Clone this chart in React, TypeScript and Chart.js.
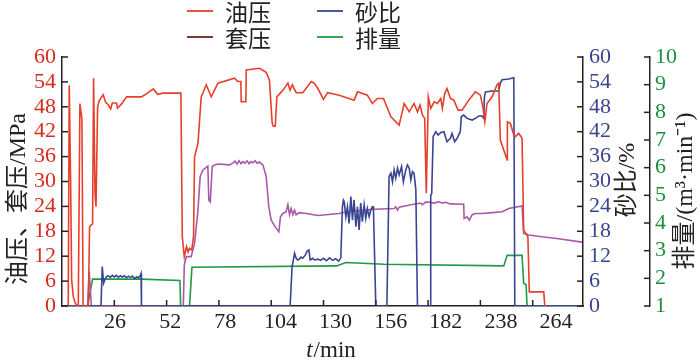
import React, { useEffect, useRef } from 'react';
import { Chart, registerables } from 'chart.js';

Chart.register(...registerables);

// ---- data (time in min, values in axis units) ----
const xTickValues = [26, 52, 78, 104, 130, 156, 182, 208, 234];
const xTickLabels = ['26', '52', '78', '104', '130', '156', '182', '238', '264'];

const seriesNames = ['油压', '套压', '砂比', '排量'];

const oilPressure: [number, number][] = [
  [3.1, 0], [3.6, 53.2], [4.3, 29.6], [4.8, 6.3], [5.6, 2.3], [6.5, 0.8], [7.3, 0.2], [8.1, 0],
  [8.9, 48.8], [9.9, 45.0], [10.5, 0], [13.1, 0], [13.7, 19.1], [14.7, 19.6], [15.2, 19.8],
  [15.7, 54.9], [16.4, 27.2], [16.9, 23.9], [17.7, 47.8], [18.4, 49.4], [19.4, 50.2], [20.5, 50.9],
  [21.7, 49.1], [23.0, 48.5], [24.2, 47.5], [25.0, 48.9], [27.1, 48.9], [27.6, 47.7], [29.6, 48.7],
  [32.1, 50.4], [39.5, 50.4], [42.5, 51.3], [45.4, 52.3], [47.5, 51.0], [50.3, 51.3], [59.1, 51.3],
  [59.8, 16.7], [60.8, 11.9], [61.9, 14.3], [62.7, 13.0], [63.4, 13.9], [64.5, 13.5], [65.4, 16.7],
  [65.9, 36.0], [67.6, 39.2], [69.2, 50.4], [70.2, 51.5], [71.7, 53.3], [74.2, 50.4], [77.5, 53.7],
  [85.8, 54.9], [87.4, 54.1], [88.9, 54.1], [89.1, 49.2], [91.4, 49.2], [91.6, 56.9], [98.2, 57.3],
  [101.5, 56.3], [103.1, 54.5], [104.5, 44.0], [105.1, 43.3], [106.0, 43.3], [106.8, 50.4],
  [109.8, 52.0], [111.0, 52.8], [112.3, 53.7], [113.4, 52.0], [114.5, 53.3], [116.4, 51.4],
  [119.7, 51.4], [123.9, 54.1], [125.3, 53.7], [127.2, 52.4], [130, 49.8], [132, 51.4],
  [137.8, 50.8], [145.2, 49.6], [146.9, 51.6], [151.8, 50.8], [154.3, 48.8], [156.8, 50.0],
  [159.8, 50.0], [163.5, 45.6], [167.6, 43.6], [170.1, 48.8], [172.6, 46.8], [175, 48.8],
  [176.7, 46.8], [178, 48.4], [179.2, 46.0], [180.3, 45.2], [181.1, 27.2], [182.1, 50.4],
  [183.3, 47.6], [185, 49.2], [186.6, 48.8], [188.3, 50.0], [189.1, 47.6], [190.3, 51.3],
  [191.4, 52.4], [193.1, 50.0], [194.8, 49.6], [196.9, 47.2], [198.9, 47.2], [202.2, 49.6],
  [205.5, 51.6], [208, 50.8], [209.2, 48.0], [210.2, 44.4], [211.3, 48.8], [213.8, 50.4],
  [216.3, 53.3], [217.1, 53.7], [217.9, 40.0], [221.3, 35.2], [221.4, 44.4], [222.9, 44.0],
  [224.6, 41.2], [225.4, 40.8], [227, 41.6], [228.7, 40.4], [229.5, 18.3], [231.6, 16.7],
  [232.3, 3.4], [239.5, 3.4], [240, 0],
];

const casingPressure: [number, number][] = [
  [0, 0], [12.7, 0], [13.5, 8.3], [14.6, 0], [60.3, 0], [60.8, 9.9], [61.8, 11.9], [64.2, 11.9],
  [65.9, 15.1], [67.6, 23.1], [68.7, 31.2], [70.1, 32.8], [72.5, 33.7], [73.0, 25.5], [73.7, 25.1],
  [74.7, 33.6], [75.9, 34.0], [77.5, 34.2], [83.3, 34.0], [85, 34.5], [86, 34.9], [87, 34.2],
  [88, 35.0], [89, 34.3], [90, 34.8], [91, 34.4], [92, 35.0], [93, 34.3], [94, 34.8], [95, 34.5],
  [96, 35.0], [97, 34.4], [98, 34.7], [99.9, 34.0], [101.5, 31.2], [102.8, 23.9], [104, 20.7],
  [106.5, 18.7], [107.8, 17.9], [108.6, 21.5], [109.8, 22.3], [111.4, 22.7], [112.3, 24.4],
  [113.1, 22.0], [113.9, 23.5], [114.8, 22.0], [115.6, 23.1], [116.4, 22.0], [118, 22.5],
  [121.4, 22.3], [127.2, 21.8], [137.8, 22.3], [141.9, 22.7], [155.2, 23.3], [165.1, 23.5],
  [165.9, 23.9], [166.8, 23.1], [167.6, 23.8], [173.4, 24.4], [178.4, 24.8], [179.2, 24.4],
  [180.9, 25.1], [182.5, 25.0], [185, 24.8], [187.4, 25.1], [189.1, 24.8], [190.7, 25.0],
  [193, 24.6], [199.7, 24.5], [199.9, 21.1], [201.4, 21.5], [202.5, 20.7], [203.9, 22.0],
  [205.5, 22.3], [208.8, 22.3], [213.8, 22.5], [218.8, 22.7], [222.1, 23.5], [228.7, 24.1],
  [229.5, 17.5], [232, 17.1], [238.6, 16.7], [246.9, 16.2], [258.5, 15.4],
];

const sandRatio: [number, number][] = [
  [0, 0], [19.4, 0], [20.0, 9.5], [20.7, 5.5], [21.3, 6.3], [22.2, 7.1], [23, 7.3], [24, 6.9],
  [25, 7.4], [26, 7.0], [27, 7.4], [28, 6.9], [29, 7.3], [30, 7.0], [31, 7.3], [32, 6.8], [33, 7.2],
  [34, 6.9], [35, 7.2], [36, 6.6], [37, 7.0], [38, 6.8], [39, 7.4], [39.3, 7.8], [39.5, 0],
  [113.4, 0], [114.4, 9.5], [115.6, 12.7], [116.4, 11.5], [117.2, 11.1], [118, 11.3], [118.8, 11.8],
  [119.7, 11.5], [121, 12.3], [121.8, 13.2], [122.7, 13.5], [123.4, 11.1], [124.7, 11.5],
  [125.5, 11.1], [127.2, 11.3], [128.5, 11.0], [130, 11.5], [131.5, 10.9], [133, 11.6],
  [134.5, 11.0], [136, 11.4], [137.5, 10.8], [138.6, 11.6], [139.4, 23.9], [139.9, 25.5],
  [140.3, 25.1], [141.1, 21.5], [141.9, 23.9], [142.7, 19.9], [143.6, 26.4], [144.4, 20.7],
  [145.2, 25.6], [146.1, 19.1], [146.9, 23.9], [147.7, 18.3], [148.5, 24.8], [149.3, 20.3],
  [150.2, 24.4], [151, 21.1], [151.8, 23.5], [152.7, 21.5], [153.5, 23.1], [154.3, 23.9],
  [154.8, 23.9], [156, 0], [161.5, 0], [162.6, 31.2], [163.5, 32.0], [164.3, 29.9], [165.1, 32.8],
  [165.9, 30.8], [166.8, 33.2], [167.6, 31.6], [168.8, 33.6], [169.7, 29.9], [170.9, 32.8],
  [171.7, 34.0], [172.6, 33.2], [173.4, 30.4], [174.2, 32.4], [175, 32.0], [175.9, 28.0],
  [176.7, 0], [183, 0], [183.3, 26.7], [183.8, 27.1], [184.5, 40.8], [185.8, 42.0], [187, 41.2],
  [188.3, 41.8], [189.9, 42.0], [190.6, 40.8], [191.4, 39.6], [192.2, 40.0], [193.1, 40.4],
  [193.9, 41.6], [195.2, 39.6], [196.4, 40.4], [198, 42.0], [198.5, 45.6], [199.7, 46.0],
  [201.4, 45.2], [203.9, 44.8], [205.5, 45.2], [207.2, 45.8], [208.8, 45.8], [209.7, 45.2],
  [210, 50.4], [210.5, 51.6], [213.8, 51.8], [217.1, 51.8], [217.9, 53.7], [218.8, 54.5],
  [222.1, 54.7], [224.6, 55.0], [225.1, 0], [259, 0],
];

const pumpRate: [number, number][] = [
  [0, 1], [12.7, 1], [15.2, 1.97], [39.5, 1.97], [58.6, 1.92], [59.0, 1], [63.4, 1], [64.6, 2.4],
  [136.6, 2.45], [141.1, 2.57], [160, 2.51], [219.6, 2.45], [221.3, 2.83], [228.7, 2.83],
  [229.5, 1.82], [230.7, 1.77], [231.2, 1], [259, 1],
];

// ---- styles ----
const RED = '#e6402c';
const PURPLE = '#a85aa8';
const BLUE = '#394593';
const GREEN = '#1f9a45';
const MAROON = '#6e2620';
const AXIS = '#222222';
const SERIF = '"Liberation Serif"';
const MIXED = '"Liberation Serif", "Noto Sans CJK SC"';

const decorPlugin = {
  id: 'decor',
  afterDraw(chart: any) {
    const { ctx, chartArea: ca, scales } = chart;
    ctx.save();
    ctx.strokeStyle = AXIS;
    ctx.lineWidth = 1.5;
    const seg = (x1: number, y1: number, x2: number, y2: number) => {
      ctx.beginPath();
      ctx.moveTo(x1, y1);
      ctx.lineTo(x2, y2);
      ctx.stroke();
    };
    const tl = 6;
    scales.x.ticks.forEach((t: any) => {
      const px = scales.x.getPixelForValue(t.value);
      seg(px, ca.bottom, px, ca.bottom - tl);
    });
    scales.y.ticks.forEach((t: any) => {
      const py = scales.y.getPixelForValue(t.value);
      seg(ca.left, py, ca.left + tl, py);
    });
    scales.y1.ticks.forEach((t: any) => {
      const py = scales.y1.getPixelForValue(t.value);
      seg(ca.right - tl, py, ca.right, py);
    });
    const y2 = scales.y2;
    y2.ticks.forEach((t: any) => {
      const py = y2.getPixelForValue(t.value);
      seg(y2.left - tl, py, y2.left, py);
    });

    // legend (two columns, two rows)
    const legend = [
      { name: seriesNames[0], color: RED, x: 187, y: 11 },
      { name: seriesNames[2], color: BLUE, x: 317, y: 11 },
      { name: seriesNames[1], color: MAROON, x: 187, y: 37 },
      { name: seriesNames[3], color: GREEN, x: 317, y: 37 },
    ];
    ctx.font = '23px "Noto Sans CJK SC"';
    ctx.textAlign = 'left';
    ctx.textBaseline = 'middle';
    legend.forEach((l) => {
      ctx.strokeStyle = l.color;
      ctx.lineWidth = 1.8;
      seg(l.x, l.y, l.x + 26, l.y);
      ctx.fillStyle = '#222';
      ctx.fillText(l.name, l.x + 38, l.y + 1);
    });

    // axis titles
    ctx.fillStyle = '#222';
    ctx.textAlign = 'center';
    ctx.textBaseline = 'middle';
    ctx.font = '24px ' + MIXED;
    const vTitle = (text: string, x: number, y: number) => {
      ctx.save();
      ctx.translate(x, y);
      ctx.rotate(-Math.PI / 2);
      ctx.fillText(text, 0, 0);
      ctx.restore();
    };
    vTitle('油压、套压/MPa', 19, 199);
    vTitle('砂比/%', 628, 180);
    vTitle('排量/(m³·min⁻¹)', 686, 191);

    // x title: italic t + /min
    ctx.textAlign = 'left';
    const italic = 'italic 23px ' + SERIF;
    const normal = '23px ' + SERIF;
    ctx.font = italic;
    const wt = ctx.measureText('t').width;
    ctx.font = normal;
    const wr = ctx.measureText('/min').width;
    const cx = (ca.left + ca.right) / 2 + 8;
    const start = cx - (wt + wr) / 2;
    ctx.font = italic;
    ctx.fillText('t', start, 351);
    ctx.font = normal;
    ctx.fillText('/min', start + wt + 1, 351);
    ctx.restore();
  },
};

const tickFont = { family: SERIF, size: 22 };

export default function App() {
  const ref = useRef<HTMLCanvasElement | null>(null);
  useEffect(() => {
    if (!ref.current) return;
    const line = (label: string, data: [number, number][], color: string, axis: string) => ({
      label,
      data,
      borderColor: color,
      backgroundColor: color,
      borderWidth: 1.6,
      pointRadius: 0,
      tension: 0,
      fill: false,
      xAxisID: 'x',
      yAxisID: axis,
    });
    const chart = new Chart(ref.current, {
      type: 'line',
      data: {
        datasets: [
          line(seriesNames[0], oilPressure, RED, 'y'),
          line(seriesNames[2], sandRatio, BLUE, 'y1'),
          line(seriesNames[1], casingPressure, PURPLE, 'y'),
          line(seriesNames[3], pumpRate, GREEN, 'y2'),
        ],
      },
      options: {
        responsive: false,
        animation: false,
        layout: { padding: { top: 57, left: 0, right: 0, bottom: 0 } },
        plugins: { legend: { display: false }, tooltip: { enabled: false } },
        scales: {
          // data axis: tick marks only (labels carried by the label axis below)
          x: {
            type: 'linear',
            position: 'bottom',
            weight: 0,
            min: 0,
            max: 259,
            grid: { display: false, drawTicks: false },
            border: { display: true, color: AXIS, width: 1.5 },
            afterBuildTicks: (s: any) => {
              s.ticks = xTickValues.map((v) => ({ value: v }));
            },
            afterFit: (s: any) => {
              s.height = 0;
            },
            ticks: { display: false },
          },
          // label axis: the original figure's labels are spaced slightly wider than its tick marks
          xl: {
            type: 'linear',
            position: 'bottom',
            weight: 1,
            min: 1,
            max: 246.7,
            grid: { display: false, drawTicks: false },
            border: { display: false },
            afterBuildTicks: (s: any) => {
              s.ticks = xTickValues.map((v) => ({ value: v }));
            },
            afterFit: (s: any) => {
              s.height = 58;
            },
            ticks: {
              color: '#222',
              font: tickFont,
              padding: 3,
              maxRotation: 0,
              autoSkip: false,
              callback: (v: any) => {
                const i = xTickValues.indexOf(Number(v));
                return i >= 0 ? xTickLabels[i] : '';
              },
            },
          },
          y: {
            position: 'left',
            min: 0,
            max: 60,
            grid: { display: false, drawTicks: false },
            border: { display: true, color: AXIS, width: 1.5 },
            afterFit: (s: any) => {
              s.width = 62;
            },
            ticks: { stepSize: 6, autoSkip: false, color: '#d92a1c', font: tickFont, padding: 6 },
          },
          y1: {
            position: 'right',
            weight: 0,
            min: 0,
            max: 60,
            grid: { display: false, drawTicks: false },
            border: { display: true, color: AXIS, width: 1.5 },
            afterFit: (s: any) => {
              s.width = 67;
            },
            ticks: { stepSize: 6, autoSkip: false, color: '#3a4590', font: tickFont, padding: 6 },
          },
          y2: {
            position: 'right',
            weight: 1,
            min: 1,
            max: 10,
            grid: { display: false, drawTicks: false },
            border: { display: true, color: AXIS, width: 1.5 },
            afterFit: (s: any) => {
              s.width = 50;
            },
            ticks: { stepSize: 1, autoSkip: false, color: '#1a8f3c', font: tickFont, padding: 5 },
          },
        },
      } as any,
      plugins: [decorPlugin],
    });
    return () => chart.destroy();
  }, []);
  return (
    <div style={{ position: 'fixed', left: 0, top: 0, width: 700, height: 364, background: '#fff' }}>
      <canvas ref={ref} width={700} height={364} style={{ display: 'block' }} />
    </div>
  );
}
